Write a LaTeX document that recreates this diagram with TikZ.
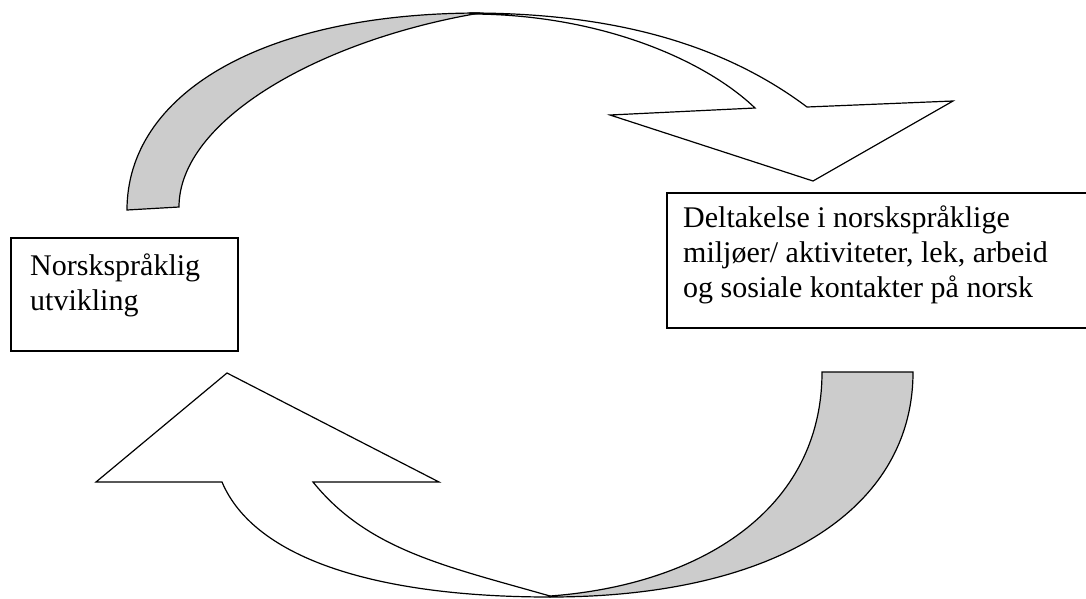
\documentclass[tikz,border=0pt]{standalone}
\usepackage{fontspec}
\setmainfont{Liberation Serif}
\definecolor{ribbonshade}{gray}{0.8}
\begin{document}
\begin{tikzpicture}[x=1pt,y=-1pt,
  ribbonback/.style={fill=ribbonshade, draw=black, line width=1.2pt},
  ribbonfront/.style={fill=white, draw=black, line width=1.2pt},
  framebox/.style={draw=black, line width=1.5pt, fill=white, inner sep=0pt, anchor=north west},
  boxtext/.style={inner sep=0pt, anchor=north west, align=left, font=\fontsize{30}{35}\selectfont}]

\useasboundingbox (0,0) rectangle (1086,598);
\clip (0,0) rectangle (1086,598);

% upper curved arrow: shaded underside rising from the left
\path[ribbonback] (127,210) .. controls (127,95) and (260,13) .. (480,13)
  .. controls (320,40) and (179,120) .. (179,207) -- cycle;
% upper curved arrow: front face bending down into the head
\path[ribbonfront] (470,13) .. controls (620,13) and (727,47) .. (807,107)
  -- (953,101) -- (813,181) -- (610,115) -- (755,108)
  .. controls (705,60) and (600,14) .. (470,14) -- cycle;

% lower curved arrow: shaded underside falling on the right
\path[ribbonback] (550,597) .. controls (775,597) and (913,510) .. (913,372)
  -- (822,372) .. controls (822,510) and (700,585) .. (550,596) -- cycle;
% lower curved arrow: front face rising into the head
\path[ribbonfront] (227,373) -- (439,482) -- (313,482)
  .. controls (368,550) and (445,566) .. (550,596) -- (550,597)
  .. controls (380,597) and (255,560) .. (222,482) -- (96,482) -- cycle;

% text boxes
\node[framebox, minimum width=227pt, minimum height=113pt] (devbox) at (10,237) {};
\node[framebox, minimum width=422pt, minimum height=135pt] (partbox) at (666,192) {};

\node[boxtext] (devtext) at (30,250.5) {\strut Norskspråklig\\utvikling};
\node[boxtext] (parttext) at (683,202.5) {\strut Deltakelse i norskspråklige\\miljøer/ aktiviteter, lek, arbeid\\og sosiale kontakter på norsk};
\end{tikzpicture}
\end{document}
